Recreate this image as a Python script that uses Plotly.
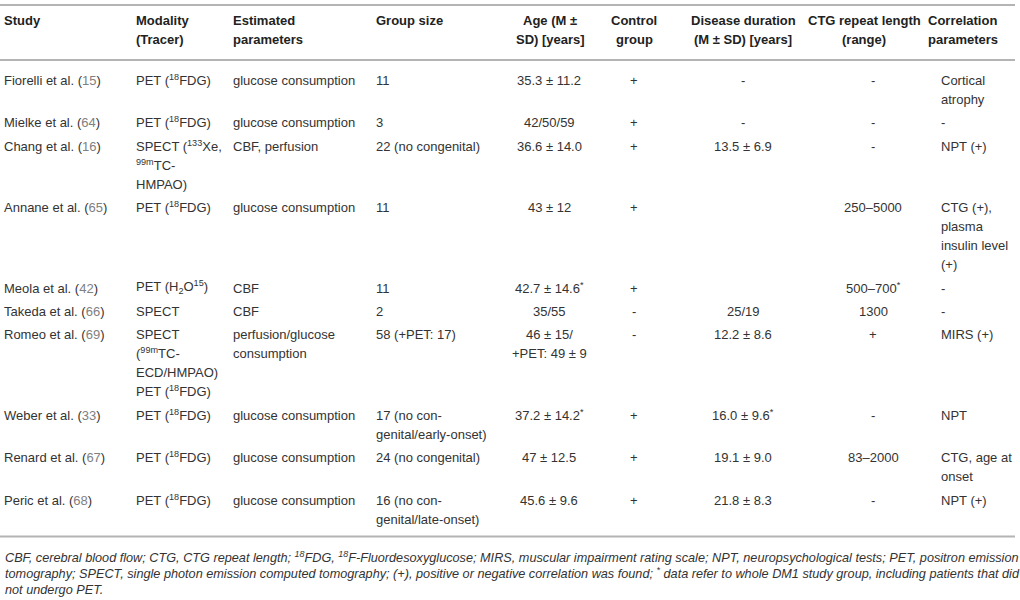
import plotly.graph_objects as go

# table content
headers = ["Study", "Modality<br>(Tracer)", "Estimated<br>parameters", "Group size",
           "Age (M ±<br>SD) [years]", "Control<br>group", "Disease duration<br>(M ± SD) [years]",
           "CTG repeat length<br>(range)", "Correlation<br>parameters"]

study_names = ["Fiorelli et al.", "Mielke et al.", "Chang et al.", "Annane et al.", "Meola et al.",
               "Takeda et al.", "Romeo et al.", "Weber et al.", "Renard et al.", "Peric et al."]
study_refs = [15, 64, 16, 65, 42, 66, 69, 33, 67, 68]

modality = ["PET (<sup>18</sup>FDG)", "PET (<sup>18</sup>FDG)",
            "SPECT (<sup>133</sup>Xe,<br><sup>99m</sup>TC-<br>HMPAO)", "PET (<sup>18</sup>FDG)",
            "PET (H<sub>2</sub>O<sup>15</sup>)", "SPECT",
            "SPECT<br>(<sup>99m</sup>TC-<br>ECD/HMPAO)<br>PET (<sup>18</sup>FDG)",
            "PET (<sup>18</sup>FDG)", "PET (<sup>18</sup>FDG)", "PET (<sup>18</sup>FDG)"]

estimated = ["glucose consumption", "glucose consumption", "CBF, perfusion", "glucose consumption",
             "CBF", "CBF", "perfusion/glucose<br>consumption", "glucose consumption",
             "glucose consumption", "glucose consumption"]

group_size = ["11", "3", "22 (no congenital)", "11", "11", "2", "58 (+PET: 17)",
              "17 (no con-<br>genital/early-onset)", "24 (no congenital)", "16 (no con-<br>genital/late-onset)"]

age = ["35.3 ± 11.2", "42/50/59", "36.6 ± 14.0", "43 ± 12", "42.7 ± 14.6<sup>*</sup>", "35/55",
       "46 ± 15/<br>+PET: 49 ± 9", "37.2 ± 14.2<sup>*</sup>", "47 ± 12.5", "45.6 ± 9.6"]

control = ["+", "+", "+", "+", "+", "-", "-", "+", "+", "+"]

duration = ["-", "-", "13.5 ± 6.9", "", "", "25/19", "12.2 ± 8.6", "16.0 ± 9.6<sup>*</sup>",
            "19.1 ± 9.0", "21.8 ± 8.3"]

ctg = ["-", "-", "-", "250–5000", "500–700<sup>*</sup>", "1300", "+", "-", "83–2000", "-"]

correlation = ["Cortical<br>atrophy", "-", "NPT (+)", "CTG (+),<br>plasma<br>insulin level<br>(+)",
               "-", "-", "MIRS (+)", "NPT", "CTG, age at<br>onset", "NPT (+)"]

footnote = ("CBF, cerebral blood flow; CTG, CTG repeat length; <sup>18</sup>FDG, <sup>18</sup>F-Fluordesoxyglucose; "
            "MIRS, muscular impairment rating scale; NPT, neuropsychological tests; PET, positron emission<br>"
            "tomography; SPECT, single photon emission computed tomography; (+), positive or negative correlation "
            "was found; <sup>*</sup> data refer to whole DM1 study group, including patients that did<br>"
            "not undergo PET.")

study = [f'{n} (<span style="color:#808080">{r}</span>)' for n, r in zip(study_names, study_refs)]
columns = [study, modality, estimated, group_size, age, control, duration, ctg, correlation]

col_x = [3, 135, 232, 375, 549, 634, 743, 873, 940]
head_x = [3, 135, 232, 375, 550, 634, 743, 864, 927]
col_align = ["left", "left", "left", "left", "center", "center", "center", "center", "left"]

line_h = 19
row_gap = 4.4
font = "Liberation Sans, Arial, sans-serif"

fig = go.Figure(go.Scatter(x=[], y=[]))
annots = []


def add_cell(text, x, y, align, color, size=13):
    for k, part in enumerate(text.split("<br>")):
        annots.append(dict(x=x, y=y + k * line_h + 8, xref="x", yref="y", text=part,
                           showarrow=False, xanchor=align, yanchor="bottom", align=align,
                           font=dict(family=font, size=size, color=color), borderpad=0))


for j, h in enumerate(headers):
    add_cell("<br>".join(f"<b>{p}</b>" for p in h.split("<br>")), head_x[j], 21, col_align[j], "#222222")

y = 81
for i in range(len(study)):
    cells = [col[i] for col in columns]
    nlines = max(c.count("<br>") + 1 for c in cells)
    for j, cell in enumerate(cells):
        if cell:
            add_cell(cell, col_x[j], y, col_align[j], "#333333")
    y += nlines * line_h + row_gap

bottom = y - row_gap - line_h + 17

foot_lines = footnote.split("<br>")
for k, part in enumerate(foot_lines):
    annots.append(dict(x=3, y=bottom + 20 + k * 16.5, xref="x", yref="y", text=f"<i>{part}</i>",
                       showarrow=False, xanchor="left", yanchor="middle", align="left",
                       font=dict(family=font, size=12.7, color="#333333")))

# horizontal rules: top of table, under the header, under the last row
fig_h = 600
rules = [5, 60, bottom]
shapes = [dict(type="line", xref="paper", yref="paper", x0=0, x1=1015 / 1020,
               y0=1 - r / fig_h, y1=1 - r / fig_h, layer="above",
               line=dict(color="#b4b4b4", width=2)) for r in rules]

fig.update_layout(width=1020, height=fig_h, margin=dict(l=0, r=0, t=0, b=0),
                  paper_bgcolor="white", plot_bgcolor="white", showlegend=False,
                  xaxis=dict(range=[0, 1020], visible=False, fixedrange=True),
                  yaxis=dict(range=[fig_h, 0], visible=False, fixedrange=True),
                  annotations=annots, shapes=shapes)

# drop the default 8px body margin so the table sits flush with the window
fig.write_html("out.html", config={"displayModeBar": False},
               post_script="document.body.style.margin='0';")
